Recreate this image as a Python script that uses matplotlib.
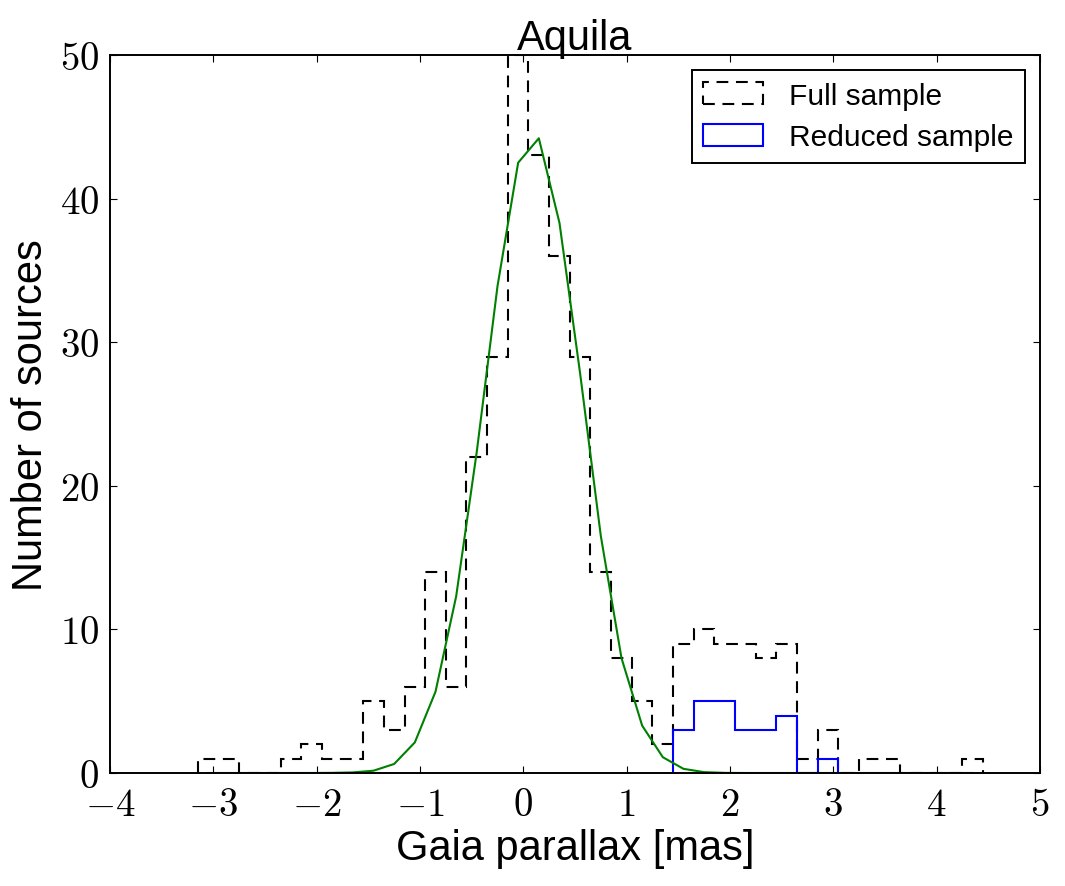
import numpy as np
import matplotlib
matplotlib.use("Agg")
import matplotlib.pyplot as plt
from matplotlib.ticker import FuncFormatter, MultipleLocator

plt.rcParams['mathtext.fontset'] = 'cm'
plt.rcParams['font.family'] = ['Liberation Sans', 'DejaVu Sans']
plt.rcParams['lines.scale_dashes'] = False

# ---- data ----
bin_lo, bin_hi, n_bins = -3.15, 4.45, 38
full_counts = [1, 1, 0, 0, 1, 2, 1, 1, 5, 3, 6, 14, 6, 22, 29, 50, 43, 36, 29, 14,
               8, 5, 2, 9, 10, 9, 9, 8, 9, 1, 3, 0, 1, 1, 0, 0, 0, 1]
red_lo, red_hi = 1.45, 3.05
reduced_counts = [3, 5, 5, 3, 3, 4, 0, 1]
fit_values = [0, 0, 0, 0, 0, 0.001,
              0.01, 0.04, 0.16, 0.63, 2.13, 5.66, 12.3, 22.4, 33.9, 42.5,
              44.2, 38.3, 27.8, 16.5, 8.0, 3.3, 1.1, 0.29, 0.06, 0.01,
              0, 0, 0, 0, 0, 0, 0, 0, 0, 0, 0, 0]
title = "Aquila"
xlabel = "Gaia parallax [mas]"
ylabel = "Number of sources"
labels = ["Full sample", "Reduced sample"]

edges = np.linspace(bin_lo, bin_hi, n_bins + 1)
centers = 0.5 * (edges[:-1] + edges[1:])
red_edges = np.linspace(red_lo, red_hi, len(reduced_counts) + 1)
red_centers = 0.5 * (red_edges[:-1] + red_edges[1:])

fig = plt.figure(figsize=(10.65, 8.87), dpi=100)
ax = fig.add_axes([0.1033, 0.1274, 0.8732, 0.8095])

ax.hist(centers, bins=edges, weights=full_counts, histtype='step',
        color='k', linewidth=1.5, linestyle=(0, (8.5, 5.5)), label=labels[0])
ax.hist(red_centers, bins=red_edges, weights=reduced_counts, histtype='step',
        color='#0000ff', linewidth=1.5, label=labels[1])
ax.plot(centers, fit_values, color='#008000', linewidth=1.5)

ax.set_xlim(-4, 5)
ax.set_ylim(0, 50)
ax.xaxis.set_major_locator(MultipleLocator(1))
ax.yaxis.set_major_locator(MultipleLocator(10))
fmt = FuncFormatter(lambda v, p: r'$%d$' % int(round(v)))
ax.xaxis.set_major_formatter(fmt)
ax.yaxis.set_major_formatter(fmt)
ax.tick_params(direction='in', top=True, right=True, length=5, width=0.8,
               labelsize=28)
ax.tick_params(axis='x', pad=10)
ax.tick_params(axis='y', pad=8)
for s in ax.spines.values():
    s.set_linewidth(1.4)

ax.set_title(title, fontsize=30, pad=4)
ax.set_xlabel(xlabel, fontsize=30, labelpad=4)
ax.set_ylabel(ylabel, fontsize=30, labelpad=6)

leg = ax.legend(loc='upper right', fontsize=21.5, handlelength=2.0,
                handleheight=0.75, handletextpad=0.85, fancybox=False,
                framealpha=1, edgecolor='k', borderpad=0.4, labelspacing=0.45)
leg.get_frame().set_linewidth(1.4)

fig.savefig('out.png', dpi=100)
